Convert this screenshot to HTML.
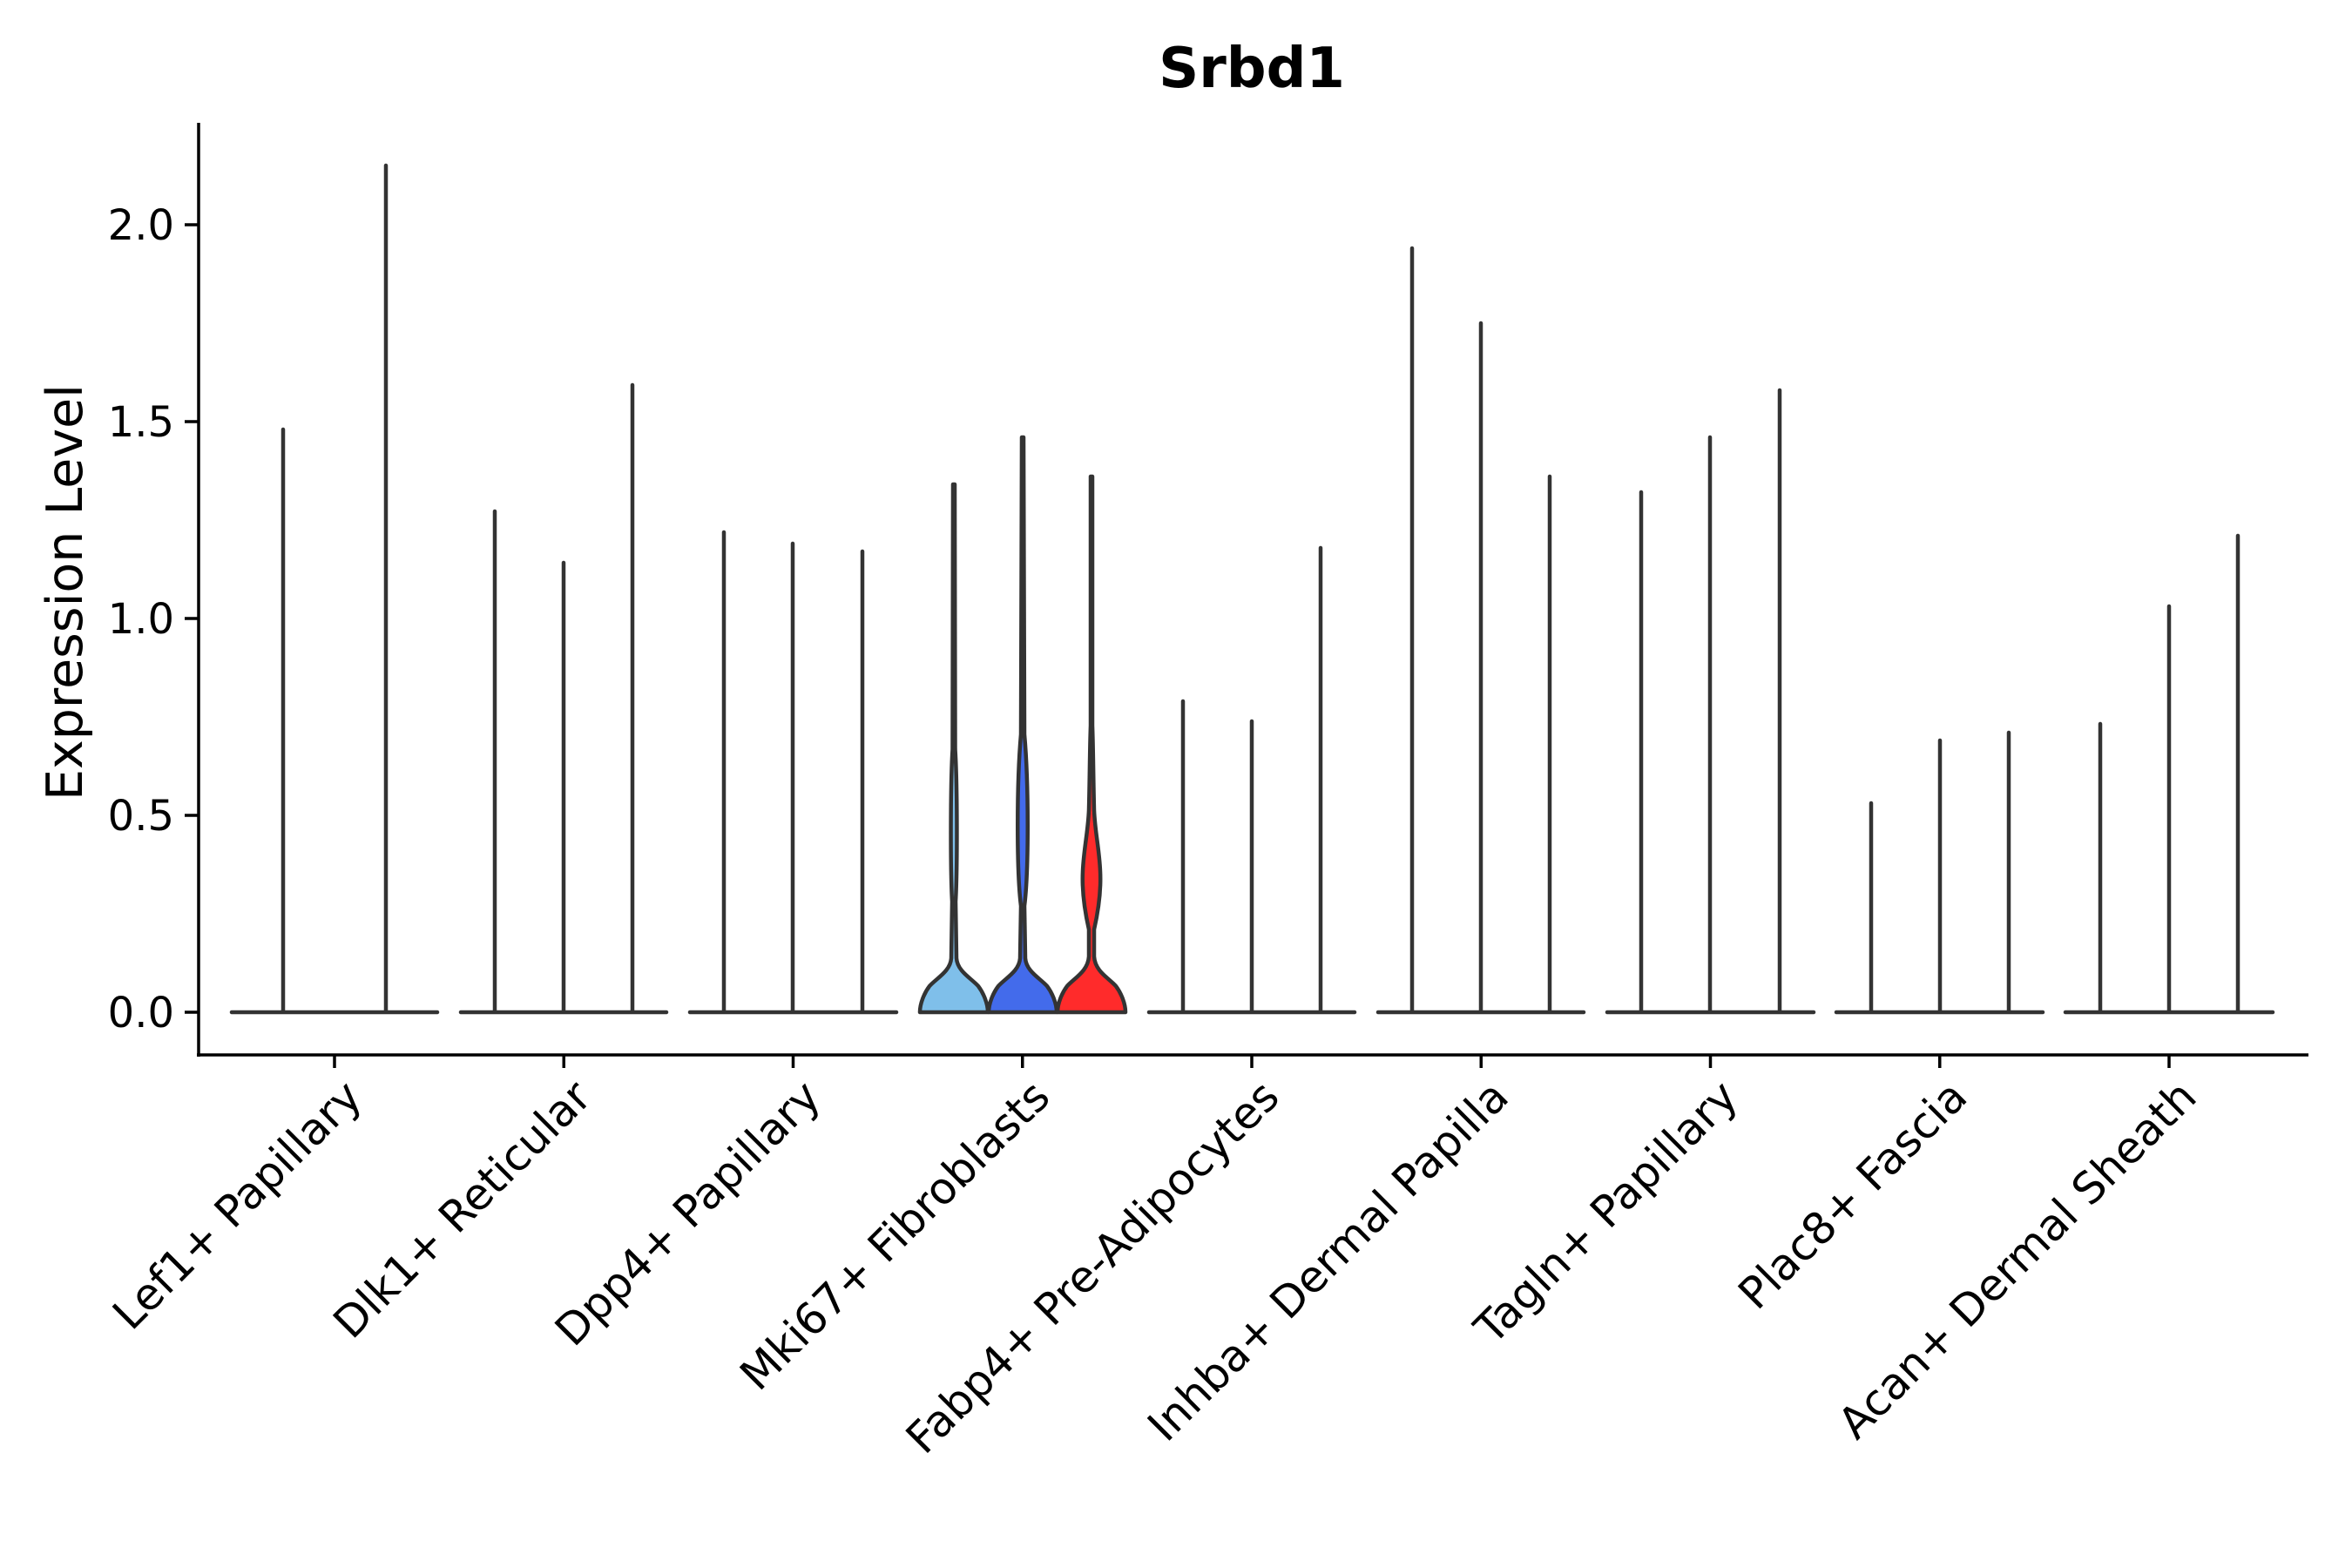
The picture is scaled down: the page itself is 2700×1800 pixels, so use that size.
<!DOCTYPE html>
<html><head><meta charset="utf-8"><style>html,body{margin:0;padding:0;background:#fff}svg{display:block}</style></head>
<body>
<svg width="2700" height="1800" viewBox="0 0 2700 1800" xmlns="http://www.w3.org/2000/svg" font-family="'DejaVu Sans','Liberation Sans',sans-serif">
<rect width="2700" height="1800" fill="#fff"/>
<text x="1437" y="100" font-size="64" font-weight="bold" text-anchor="middle">Srbd1</text>
<text transform="translate(94,680) rotate(-90)" font-size="57" text-anchor="middle">Expression Level</text>
<g font-size="48" text-anchor="end">
<text x="200" y="1179">0.0</text><text x="200" y="953">0.5</text><text x="200" y="727">1.0</text><text x="200" y="501">1.5</text><text x="200" y="275">2.0</text>
</g>
<g stroke="#000" stroke-width="3.5">
<line x1="228" y1="141" x2="228" y2="1213"/><line x1="226" y1="1211" x2="2650" y2="1211"/>
<line x1="212" y1="1162" x2="228" y2="1162"/><line x1="212" y1="936" x2="228" y2="936"/><line x1="212" y1="710" x2="228" y2="710"/><line x1="212" y1="484" x2="228" y2="484"/><line x1="212" y1="258" x2="228" y2="258"/>
<line x1="384" y1="1211" x2="384" y2="1226"/><line x1="647.25" y1="1211" x2="647.25" y2="1226"/><line x1="910.5" y1="1211" x2="910.5" y2="1226"/><line x1="1173.75" y1="1211" x2="1173.75" y2="1226"/><line x1="1437" y1="1211" x2="1437" y2="1226"/><line x1="1700.25" y1="1211" x2="1700.25" y2="1226"/><line x1="1963.5" y1="1211" x2="1963.5" y2="1226"/><line x1="2226.75" y1="1211" x2="2226.75" y2="1226"/><line x1="2490" y1="1211" x2="2490" y2="1226"/>
</g>
<g stroke="#333" stroke-width="4.5" stroke-linecap="round" fill="none">
<path d="M266,1162 L502,1162 M325,1162 L325,493 M443,1162 L443,190"/>
<path d="M529,1162 L765,1162 M568,1162 L568,587 M647,1162 L647,646 M726,1162 L726,442"/>
<path d="M792,1162 L1029,1162 M831,1162 L831,611 M910,1162 L910,624 M990,1162 L990,633"/>
<path d="M1319,1162 L1555,1162 M1358,1162 L1358,805 M1437,1162 L1437,828 M1516,1162 L1516,629"/>
<path d="M1582,1162 L1818,1162 M1621,1162 L1621,285 M1700,1162 L1700,371 M1779,1162 L1779,547"/>
<path d="M1845,1162 L2082,1162 M1884,1162 L1884,565 M1963,1162 L1963,502 M2043,1162 L2043,448"/>
<path d="M2108,1162 L2345,1162 M2148,1162 L2148,922 M2227,1162 L2227,850 M2306,1162 L2306,841"/>
<path d="M2371,1162 L2609,1162 M2411,1162 L2411,831 M2490,1162 L2490,696 M2569,1162 L2569,615"/>
</g>
<g stroke="#333" stroke-width="4.5" stroke-linejoin="round" stroke-linecap="round">
<path fill="#7FBFEA" d="M1056,1162 C1056,1152 1061,1140 1067,1132 C1075,1123 1091,1115 1092,1100 L1093,1035 C1091,1000 1091,900 1093.5,860 L1094,556 L1096,556 L1096.5,860 C1099,900 1099,1000 1097,1035 L1098,1100 C1099,1115 1115,1123 1123,1132 C1129,1140 1134,1152 1134,1162 Z"/>
<path fill="#436BEB" d="M1135,1162 C1135,1152 1140,1140 1146,1132 C1154,1123 1170,1115 1171,1100 L1172,1040 C1167,1000 1167,900 1172,843 L1173,502 L1175,502 L1176,843 C1181,900 1181,1000 1176,1040 L1177,1100 C1178,1115 1194,1123 1202,1132 C1208,1140 1213,1152 1213,1162 Z"/>
<path fill="#FF2B2B" d="M1214,1162 C1214,1152 1219,1140 1225,1132 C1233,1123 1249,1115 1250,1098 C1250,1085 1250,1075 1250,1067 C1245,1045 1242,1020 1243,1000 C1244,975 1249,955 1250,930 C1251,890 1251,860 1252,833 L1252,547 L1254,547 L1254,833 C1255,860 1255,890 1256,930 C1257,955 1262,975 1263,1000 C1264,1020 1261,1045 1256,1067 C1256,1075 1256,1085 1256,1098 C1257,1115 1273,1123 1281,1132 C1287,1140 1292,1152 1292,1162 Z"/>
</g>
<g font-size="50" text-anchor="end">
<text transform="translate(418,1262) rotate(-45)">Lef1+ Papillary</text>
<text transform="translate(681.25,1262) rotate(-45)">Dlk1+ Reticular</text>
<text transform="translate(944.5,1262) rotate(-45)">Dpp4+ Papillary</text>
<text transform="translate(1207.75,1262) rotate(-45)">Mki67+ Fibroblasts</text>
<text transform="translate(1471,1262) rotate(-45)">Fabp4+ Pre-Adipocytes</text>
<text transform="translate(1734.25,1262) rotate(-45)">Inhba+ Dermal Papilla</text>
<text transform="translate(1997.5,1262) rotate(-45)">Tagln+ Papillary</text>
<text transform="translate(2260.75,1262) rotate(-45)">Plac8+ Fascia</text>
<text transform="translate(2524,1262) rotate(-45)">Acan+ Dermal Sheath</text>
</g>
</svg>
</body></html>
